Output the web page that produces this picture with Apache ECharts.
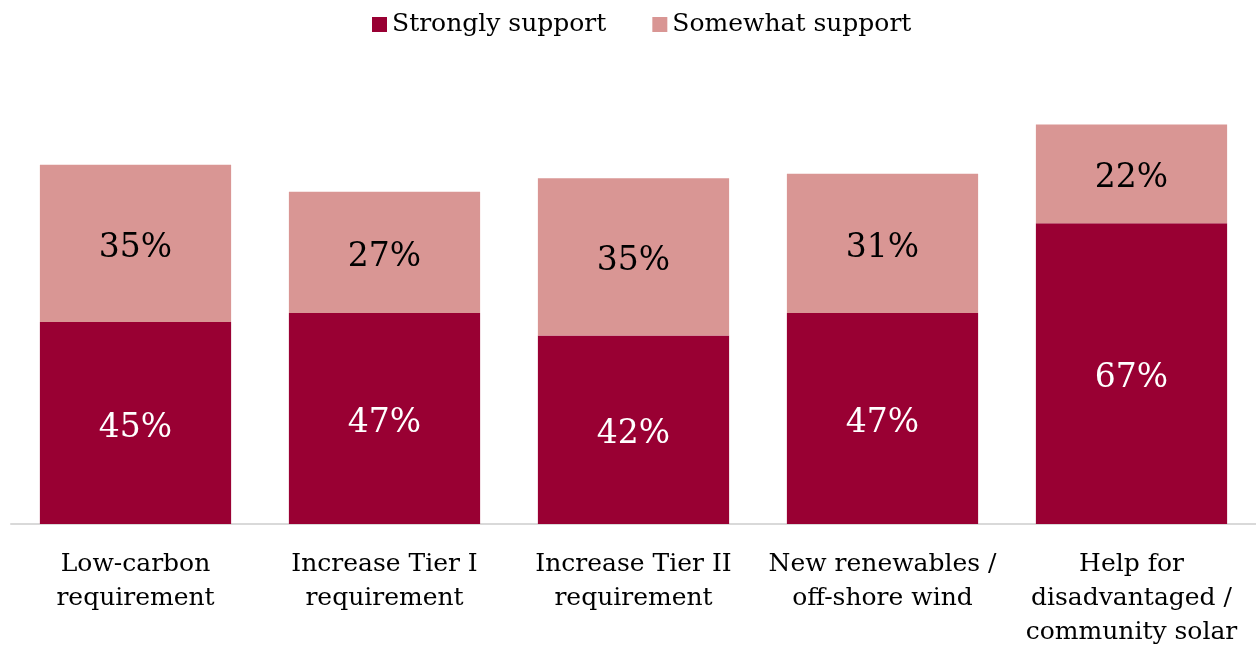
<!DOCTYPE html>
<html>
<head>
<meta charset="utf-8">
<script src="https://cdn.jsdelivr.net/npm/echarts@6/dist/echarts.min.js"></script>
<style>
  html, body { margin: 0; padding: 0; background: #fff; }
  #chart { width: 1256px; height: 649px; }
</style>
</head>
<body>
<div id="chart"></div>
<script>
// Survey support by policy, stacked share of respondents (%)
const categories = [
  'Low-carbon\nrequirement',
  'Increase Tier I\nrequirement',
  'Increase Tier II\nrequirement',
  'New renewables /\noff-shore wind',
  'Help for\ndisadvantaged /\ncommunity solar'
];
const stronglySupport = [45, 47, 42, 47, 67];
const somewhatSupport = [35, 27, 35, 31, 22];

const FONT = '"DejaVu Serif", "Liberation Serif", serif';

const chart = echarts.init(document.getElementById('chart'), null, { renderer: 'canvas' });
chart.setOption({
  animation: false,
  backgroundColor: '#ffffff',
  legend: {
    top: 7,
    left: 367,
    itemWidth: 15,
    itemHeight: 15,
    itemGap: 46,
    icon: 'rect',
    textStyle: { fontFamily: FONT, fontSize: 25, color: '#000' },
    data: ['Strongly support', 'Somewhat support']
  },
  grid: { left: 11, width: 1247.5, top: 75, height: 450, containLabel: false },
  xAxis: {
    type: 'category',
    data: categories,
    axisLine: { lineStyle: { color: '#d9d9d9', width: 2 } },
    axisTick: { show: false },
    axisLabel: {
      interval: 0,
      margin: 23,
      fontFamily: FONT,
      fontSize: 25,
      lineHeight: 34,
      color: '#000'
    }
  },
  yAxis: { type: 'value', min: 0, max: 100, show: false, splitLine: { show: false } },
  series: [
    {
      name: 'Strongly support',
      type: 'bar',
      stack: 'total',
      barWidth: '76.8%',
      data: stronglySupport,
      itemStyle: { color: '#990033' },
      label: {
        show: true,
        position: 'inside',
        offset: [0, 5],
        formatter: '{c}%',
        fontFamily: FONT,
        fontSize: 33,
        color: '#ffffff'
      }
    },
    {
      name: 'Somewhat support',
      type: 'bar',
      stack: 'total',
      data: somewhatSupport,
      itemStyle: { color: '#d99694' },
      label: {
        show: true,
        position: 'inside',
        offset: [0, 5],
        formatter: '{c}%',
        fontFamily: FONT,
        fontSize: 33,
        color: '#000000'
      }
    }
  ]
});
</script>
</body>
</html>
